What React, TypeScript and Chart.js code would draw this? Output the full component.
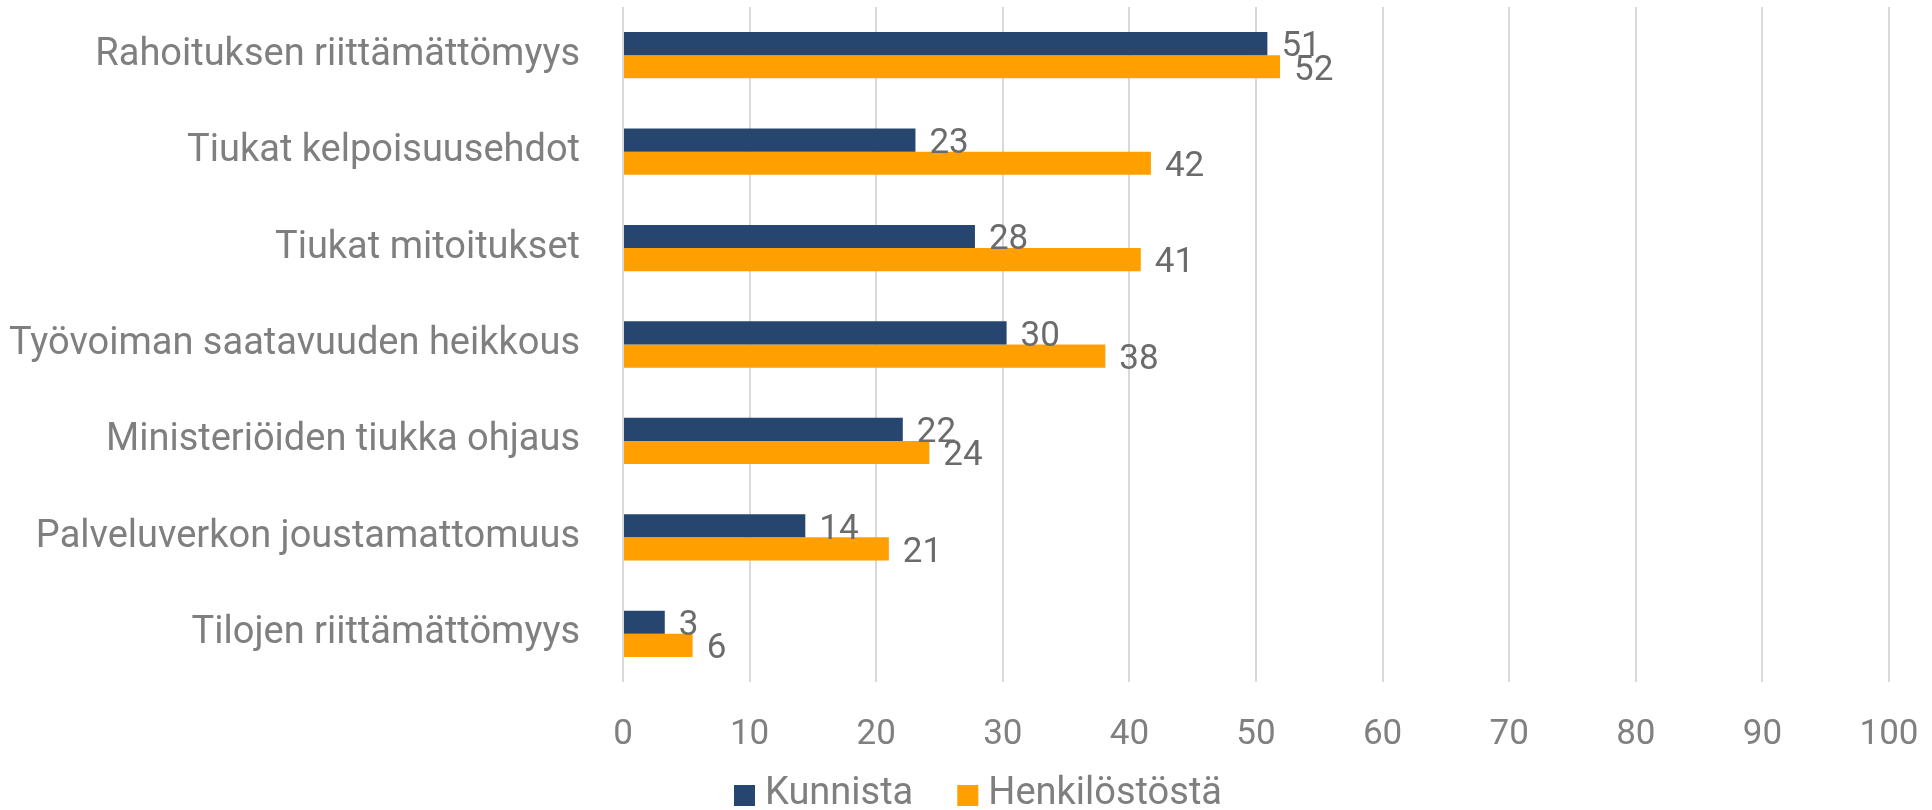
import React, { useEffect, useRef } from "react";
import { Chart, registerables } from "chart.js";

Chart.register(...registerables);

const categories: string[] = [
  "Rahoituksen riittämättömyys",
  "Tiukat kelpoisuusehdot",
  "Tiukat mitoitukset",
  "Työvoiman saatavuuden heikkous",
  "Ministeriöiden tiukka ohjaus",
  "Palveluverkon joustamattomuus",
  "Tilojen riittämättömyys",
];

const kunnista: number[] = [50.9, 23.1, 27.8, 30.3, 22.1, 14.4, 3.3];
const henkilostosta: number[] = [51.9, 41.7, 40.9, 38.1, 24.2, 21.0, 5.5];

const seriesNames: string[] = ["Kunnista", "Henkilöstöstä"];
const seriesColors: string[] = ["#264670", "#FFA000"];

const FONT = "Roboto";

const dataLabelPlugin = {
  id: "dataLabels",
  afterDatasetsDraw(chart: any) {
    const ctx = chart.ctx;
    ctx.save();
    ctx.font = `35px ${FONT}`;
    ctx.fillStyle = "#6b6b6b";
    ctx.textAlign = "left";
    ctx.textBaseline = "middle";
    chart.data.datasets.forEach((ds: any, di: number) => {
      const meta = chart.getDatasetMeta(di);
      meta.data.forEach((bar: any, i: number) => {
        const v = ds.data[i] as number;
        ctx.fillText(String(Math.round(v)), bar.x + 14, bar.y + 4);
      });
    });
    ctx.restore();
  },
};

const legendPlugin = {
  id: "customLegend",
  afterDraw(chart: any) {
    const ctx = chart.ctx;
    ctx.save();
    ctx.font = `38px ${FONT}`;
    const box = 21;
    const gap = 10;
    const itemGap = 44;
    const items = chart.data.datasets.map((ds: any) => ({
      text: ds.label as string,
      color: ds.backgroundColor as string,
      w: ctx.measureText(ds.label).width,
    }));
    const total =
      items.reduce((s: number, it: any) => s + box + gap + it.w, 0) + itemGap * (items.length - 1);
    let x = chart.width / 2 + 12 - total / 2;
    const yBoxTop = 785;
    const yText = 794;
    items.forEach((it: any) => {
      ctx.fillStyle = it.color;
      ctx.fillRect(x, yBoxTop, box, box);
      x += box + gap;
      ctx.fillStyle = "#7f7f7f";
      ctx.textAlign = "left";
      ctx.textBaseline = "middle";
      ctx.fillText(it.text, x, yText);
      x += it.w + itemGap;
    });
    ctx.restore();
  },
};

export default function App() {
  const ref = useRef<HTMLCanvasElement | null>(null);

  useEffect(() => {
    document.body.style.margin = "0";
    const canvas = ref.current!;
    const chart = new Chart(canvas, {
      type: "bar",
      data: {
        labels: categories,
        datasets: [
          {
            label: seriesNames[0],
            data: kunnista,
            backgroundColor: seriesColors[0],
            categoryPercentage: 0.48,
            barPercentage: 1.0,
          },
          {
            label: seriesNames[1],
            data: henkilostosta,
            backgroundColor: seriesColors[1],
            categoryPercentage: 0.48,
            barPercentage: 1.0,
          },
        ],
      },
      options: {
        indexAxis: "y",
        responsive: false,
        animation: false,
        layout: { padding: { left: 0, right: 43, top: 7, bottom: 22 } },
        plugins: {
          legend: { display: false },
          tooltip: { enabled: false },
        },
        scales: {
          x: {
            min: 0,
            max: 100,
            ticks: {
              stepSize: 10,
              font: { family: FONT, size: 35 },
              color: "#808080",
              padding: 32,
            },
            grid: { color: "#d9d9d9", lineWidth: 2, drawTicks: false },
            border: { display: false },
            afterFit: (s: any) => {
              s.paddingLeft = 0;
              s.paddingRight = 0;
            },
          },
          y: {
            ticks: {
              font: { family: FONT, size: 38 },
              color: "#7f7f7f",
              padding: 35,
            },
            grid: { display: false },
            border: { display: false },
            afterFit: (s: any) => {
              s.width = 623;
              s.paddingTop = 0;
              s.paddingBottom = 0;
            },
          },
        },
      },
      plugins: [dataLabelPlugin, legendPlugin],
    });
    return () => chart.destroy();
  }, []);

  return (
    <div style={{ position: "fixed", left: 0, top: 0, width: 1932, height: 810, background: "#fff" }}>
      <canvas ref={ref} width={1932} height={810} />
    </div>
  );
}
